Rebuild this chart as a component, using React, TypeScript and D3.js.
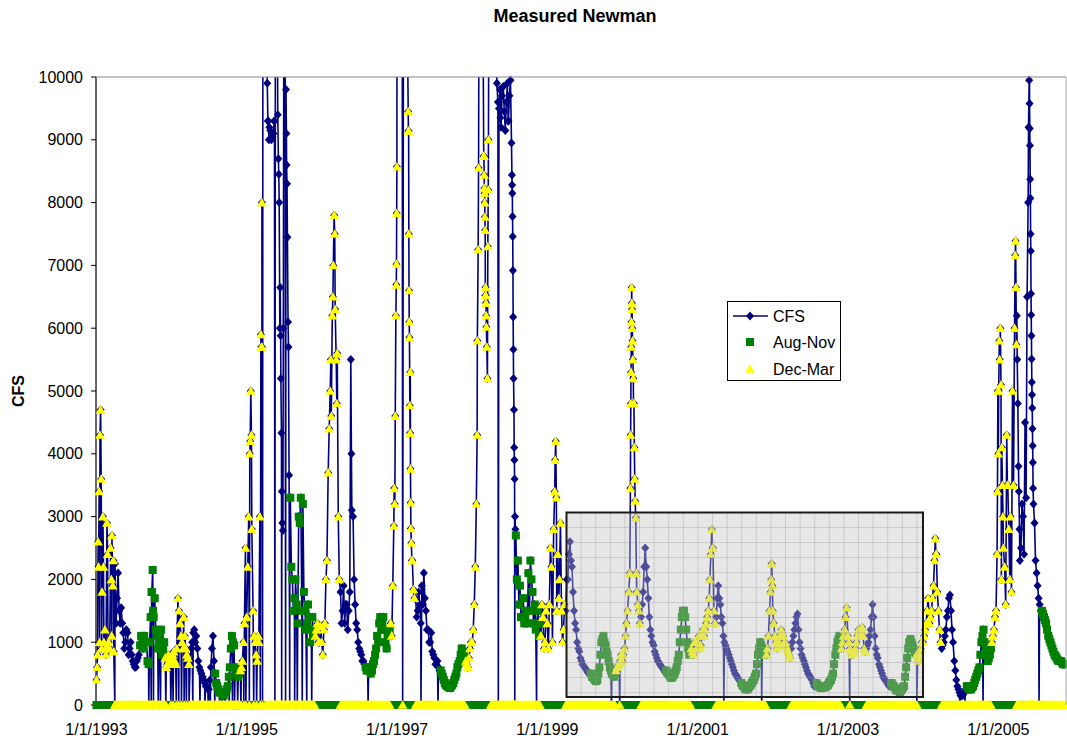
import React from "react";
import * as d3 from "d3";

// ---- data (CFS) ----
// days 1 / 11 / 21 of each month
const flow1993 = [400, 2200, 4700, 3000, 1200, 2900, 1000, 2500, 1900, 2250, 1700, 1500, 1550, 1150, 1000, 1150, 900, 800, 650, 600, 750, 950, 1050, 1100, 1000, 650, 1400, 2150, 1700, 1100, 1000, 1200, 900, 750, 650, 700];
const flow1994 = [700, 850, 650, 1700, 1300, 1000, 1400, 900, 750, 700, 1000, 1200, 1100, 700, 550, 450, 350, 300, 250, 600, 1100, 500, 300, 200, 200, 150, 200, 300, 600, 1100, 950, 500, 450, 550, 700, 1300];
const flow1995 = [1400, 3000, 5000, 1500, 1000, 700, 1000, 5900, 13000, 13000, 9900, 9200, 9000, 9100, 14000, 9400, 6000, 3400, 12000, 9800, 6100, 3300, 2000, 1700, 1600, 3000, 3300, 3200, 1500, 1300, 1400, 1200, 1100, 1100, 1300, 1000];
const flow1996 = [1000, 1200, 2000, 3700, 5000, 6200, 7800, 5500, 3000, 1800, 1500, 1300, 1600, 1500, 5500, 3000, 1600, 1200, 900, 800, 700, 600, 550, 600, 550, 700, 900, 1000, 1400, 1300, 1200, 900, 1100, 1300, 1900, 3200];
const flow1997 = [15000, 12000, 11000, 12000, 11000, 10500, 6100, 2580, 1840, 1700, 1500, 1600, 1900, 2100, 1500, 1200, 1000, 850, 750, 650, 600, 550, 450, 350, 300, 280, 300, 350, 450, 600, 700, 900, 800, 700, 600, 900];
const flow1998 = [1000, 1600, 3200, 8550, 14000, 12000, 8230, 6020, 9000, 14000, 13000, 11000, 9900, 9500, 9200, 9850, 9150, 9900, 9700, 8950, 5200, 2700, 2300, 1900, 1400, 1300, 1500, 2100, 2300, 1800, 1600, 1300, 1100, 1100, 1400, 1000];
const flow1999 = [1300, 1600, 2200, 2800, 4200, 2400, 2000, 1500, 1200, 1500, 2000, 2600, 2200, 1500, 1200, 900, 750, 650, 600, 550, 500, 500, 450, 400, 400, 600, 1000, 1100, 950, 800, 600, 500, 450, 550, 600, 700];
const flow2000 = [700, 900, 1300, 1800, 4800, 5500, 3600, 1800, 1500, 1400, 1800, 2500, 2000, 1400, 1100, 950, 800, 700, 650, 600, 550, 550, 500, 450, 450, 500, 600, 800, 1200, 1500, 1400, 1000, 800, 900, 800, 1000];
const flow2001 = [1000, 900, 1100, 1100, 1300, 1500, 2000, 2800, 1500, 1400, 1900, 1600, 1300, 1000, 900, 800, 700, 600, 500, 450, 400, 350, 300, 250, 250, 300, 350, 400, 500, 800, 1000, 900, 800, 800, 1100, 1800];
const flow2002 = [1500, 1100, 900, 1000, 1200, 1100, 1000, 900, 800, 900, 1100, 1300, 1450, 1000, 800, 700, 600, 500, 450, 400, 300, 350, 300, 280, 300, 280, 300, 350, 400, 500, 800, 1000, 1100, 900, 1100, 1400];
const flow2003 = [1100, 900, 800, 850, 1000, 1200, 1100, 1240, 900, 900, 1000, 1200, 1600, 1100, 800, 650, 550, 450, 400, 350, 300, 350, 300, 250, 250, 200, 250, 300, 600, 900, 1050, 950, 850, 800, 700, 900];
const flow2004 = [1000, 1200, 1500, 1300, 1500, 1900, 2650, 1800, 1200, 900, 1000, 1200, 1500, 1750, 1200, 700, 400, 250, 150, 150, 200, 300, 250, 250, 300, 400, 500, 600, 1000, 1200, 900, 700, 800, 1000, 1200, 1500];
const flow2005 = [4000, 6000, 3500, 2200, 4300, 2800, 3000, 5000, 6000, 6200, 3400, 2500, 3000, 4500, 6500, 11000, 5880, 3200, 2300, 1900, 1600, 1500, 1400, 1300, 1100, 1000, 900, 800, 750, 700, 700, 650, 650];

// days 6 / 16 / 26 of each month (other edge of the daily scatter)
const mid1993 = [800, 1000, 900, 1000, 800, 900, 900, 1100, 850, 1300, 2100, 1300, 1300, 900, 1200, 800, 1000, 700, 600, 700, 800, 1100, 900, 1000, 700, 1000, 1800, 1400, 1200, 900, 1100, 800, 1000, 600, 800, 650];
const mid1994 = [800, 700, 900, 1500, 1100, 900, 1100, 800, 650, 900, 1150, 1000, 900, 600, 500, 400, 300, 250, 400, 900, 700, 350, 250, 200, 180, 200, 250, 450, 900, 1000, 600, 480, 500, 600, 1000, 2500];
const mid1995 = [2200, 4000, 2800, 1100, 800, 1100, 3000, 5700, 14000, 11000, 9300, 9150, 9050, 9300, 14000, 8450, 5200, 2780, 15000, 8300, 3660, 2200, 1500, 2000, 1300, 2900, 1500, 1800, 1200, 1600, 1000, 1400, 1200, 1200, 1000, 1250];
const mid1996 = [800, 1300, 2300, 4400, 4600, 7000, 6300, 5600, 2000, 1300, 1900, 1600, 1200, 1800, 3100, 2000, 1300, 1000, 850, 700, 650, 550, 600, 500, 650, 800, 1100, 1300, 1200, 1400, 1000, 1100, 1200, 1100, 2850, 6200];
const mid1997 = [14000, 11000, 12000, 12000, 11000, 9140, 5300, 2300, 1700, 1400, 1800, 1300, 1600, 1700, 1200, 1000, 1150, 800, 650, 700, 550, 500, 400, 320, 290, 270, 320, 400, 500, 650, 800, 850, 750, 650, 750, 1000];
const mid1998 = [1200, 2200, 5800, 13000, 13000, 8740, 6520, 5200, 15000, 13000, 12000, 10500, 9600, 9800, 9700, 9450, 9600, 9300, 9950, 7780, 3600, 2000, 1600, 1400, 1700, 1400, 1300, 1500, 2000, 1300, 1200, 1500, 1300, 1600, 900, 1500];
const mid1999 = [900, 2500, 1000, 3400, 1500, 1700, 2900, 1000, 1600, 2000, 2400, 2300, 1800, 1300, 1000, 850, 700, 620, 580, 520, 480, 450, 420, 380, 500, 800, 1050, 1000, 850, 700, 550, 480, 500, 600, 650, 800];
const mid2000 = [800, 1100, 1500, 2100, 6400, 4800, 2980, 1600, 1300, 1600, 2200, 2200, 1700, 1200, 1000, 850, 750, 680, 620, 580, 520, 520, 480, 430, 480, 550, 700, 1000, 1400, 1500, 1200, 900, 850, 850, 1000, 900];
const mid2001 = [1100, 950, 1200, 1200, 1400, 1700, 2400, 2500, 1300, 1700, 1700, 1400, 1100, 950, 850, 750, 650, 550, 480, 420, 380, 320, 280, 250, 280, 320, 380, 450, 650, 900, 950, 850, 850, 900, 1500, 2250];
const mid2002 = [1300, 1000, 950, 1100, 1150, 1000, 950, 850, 750, 1000, 1200, 1400, 1200, 900, 750, 650, 550, 480, 420, 350, 320, 320, 290, 270, 290, 300, 320, 380, 450, 650, 900, 1050, 1000, 1000, 1200, 1550];
const mid2003 = [1000, 850, 820, 900, 1100, 1150, 1200, 1100, 850, 950, 1100, 1400, 1400, 900, 750, 600, 500, 420, 380, 320, 320, 320, 280, 230, 220, 230, 280, 450, 750, 1000, 1000, 900, 820, 750, 800, 1000];
const mid2004 = [1100, 1300, 1700, 1400, 1700, 2300, 2400, 1500, 1000, 950, 1100, 1400, 1700, 1500, 1000, 550, 300, 200, 150, 180, 250, 280, 250, 280, 350, 450, 550, 800, 1100, 1000, 800, 750, 900, 1100, 1400, 2400];
const mid2005 = [5800, 2000, 2500, 1600, 3500, 2000, 1800, 3500, 7390, 4800, 2300, 3200, 2400, 3300, 8000, 8070, 4400, 2900, 2100, 1700, 1500, 1450, 1350, 1200, 1050, 950, 850, 780, 720, 700, 680, 650];

const flowYears = [1993, 1994, 1995, 1996, 1997, 1998, 1999, 2000, 2001, 2002, 2003, 2004, 2005];
const flowTable = [flow1993, flow1994, flow1995, flow1996, flow1997, flow1998, flow1999, flow2000, flow2001, flow2002, flow2003, flow2004, flow2005];
const midTable = [mid1993, mid1994, mid1995, mid1996, mid1997, mid1998, mid1999, mid2000, mid2001, mid2002, mid2003, mid2004, mid2005];
const gridDays = [1, 11, 21];
const midDays = [6, 16, 26];

// storm days read separately (rises / recessions)
const stormDays: [string, number][] = [
  ["1993-01-04", 600], ["1993-01-09", 2600], ["1993-01-14", 3400], ["1993-01-18", 4300], ["1993-01-24", 3600], ["1993-01-28", 1800],
  ["1993-02-04", 2200], ["1993-02-14", 900], ["1993-02-24", 2400], ["1993-03-04", 900], ["1993-03-14", 2000], ["1993-03-17", 2700],
  ["1993-03-24", 2300], ["1993-09-27", 1800], ["1993-10-03", 1500],
  ["1995-01-18", 4200], ["1995-01-24", 4300], ["1995-03-13", 5700], ["1995-03-16", 8000], ["1995-04-05", 11000], ["1995-04-14", 9300],
  ["1995-04-19", 9000], ["1995-05-15", 9300], ["1995-06-04", 8700], ["1995-06-08", 8000], ["1995-06-13", 6650], ["1995-06-15", 5880],
  ["1995-06-19", 4330], ["1995-06-23", 2900], ["1995-06-28", 6000], ["1995-07-13", 9100], ["1995-07-14", 8600], ["1995-07-18", 7450],
  ["1995-07-23", 5700], ["1995-07-30", 3300],
  ["1996-02-14", 5500], ["1996-02-24", 6500], ["1996-03-04", 7500], ["1996-03-14", 4800], ["1996-05-24", 4000],
  ["1996-12-18", 3450], ["1996-12-23", 4600], ["1996-12-28", 6690], ["1996-12-29", 7020], ["1996-12-30", 7830], ["1996-12-31", 8570],
  ["1997-02-24", 9450], ["1997-02-25", 9140], ["1997-02-27", 7500], ["1997-02-28", 6600], ["1997-03-02", 5850], ["1997-03-04", 4770],
  ["1997-03-05", 4330], ["1997-03-07", 3760], ["1997-03-08", 3220], ["1997-03-09", 2810], ["1997-03-14", 2300],
  ["1998-01-25", 4300], ["1998-01-30", 7250], ["1998-02-04", 13000], ["1998-02-27", 8740], ["1998-02-28", 8440], ["1998-03-02", 8150],
  ["1998-03-03", 8000], ["1998-03-04", 7770], ["1998-03-05", 7560], ["1998-03-07", 6650], ["1998-03-08", 6520], ["1998-03-09", 6400],
  ["1998-03-10", 6200], ["1998-03-13", 5700], ["1998-03-18", 7300], ["1998-03-20", 8200], ["1998-05-18", 9350], ["1998-06-25", 9300],
  ["1998-07-13", 8440], ["1998-07-14", 8280], ["1998-07-15", 8150], ["1998-07-17", 7460], ["1998-07-18", 6920], ["1998-07-19", 6180],
  ["1998-07-20", 5660], ["1998-07-23", 4700], ["1998-07-24", 4100], ["1998-07-25", 3900], ["1998-07-28", 3000], ["1998-07-30", 2800],
  ["1999-02-08", 3900], ["1999-02-14", 3300],
  ["2000-02-09", 3450], ["2000-02-10", 4300], ["2000-02-12", 5300], ["2000-02-13", 5700], ["2000-02-14", 6100], ["2000-02-15", 6650],
  ["2000-02-17", 6300], ["2000-02-18", 6000], ["2000-02-19", 5800], ["2000-02-23", 5200], ["2000-02-24", 4800], ["2000-02-28", 4100],
  ["2000-03-03", 3250], ["2000-03-09", 2100],
  ["2001-03-14", 2500], ["2001-12-24", 2000], ["2001-12-27", 2250], ["2001-12-30", 1900],
  ["2004-03-04", 2400], ["2004-12-28", 3400], ["2004-12-30", 5000],
  ["2005-01-03", 5000], ["2005-01-08", 5500], ["2005-01-14", 5100], ["2005-01-18", 4100], ["2005-01-24", 3000], ["2005-02-14", 3500],
  ["2005-03-24", 7160], ["2005-03-28", 6650], ["2005-03-30", 5740], ["2005-04-03", 5500], ["2005-04-09", 3800], ["2005-04-14", 2800],
  ["2005-05-28", 9200], ["2005-05-31", 9950], ["2005-06-02", 9580], ["2005-06-03", 9180], ["2005-06-04", 8910], ["2005-06-05", 8370],
  ["2005-06-07", 7500], ["2005-06-08", 7230], ["2005-06-09", 6550], ["2005-06-10", 6210], ["2005-06-12", 5510], ["2005-06-13", 5140],
  ["2005-06-14", 4940], ["2005-06-15", 4730], ["2005-06-17", 4130], ["2005-06-18", 3860], ["2005-06-19", 3450],
];

// missing days recorded as 0
const gapDays = [
  "1993-03-31", "1993-09-12", "1993-09-24", "1993-10-05", "1993-10-28", "1993-11-08", "1993-12-04", "1993-12-28",
  "1994-01-08", "1994-01-24", "1994-02-05", "1994-02-18", "1994-03-03", "1994-03-14", "1994-03-27", "1994-04-14",
  "1994-05-19", "1994-06-11", "1994-06-28", "1994-07-08", "1994-07-30", "1994-08-22", "1994-09-04", "1994-09-18",
  "1994-10-08", "1994-10-24", "1994-11-03", "1994-11-18", "1994-12-04", "1994-12-18", "1994-12-28",
  "1995-01-14", "1995-02-04", "1995-02-18", "1995-03-08", "1995-03-19", "1995-05-18", "1995-06-20", "1995-07-09",
  "1995-07-29", "1995-08-22", "1995-09-04", "1995-09-28", "1995-10-20", "1995-11-13",
  "1996-08-13", "1997-01-28", "1997-04-27", "1997-07-19", "1998-05-08", "1998-07-27", "1998-11-10", "1999-11-09",
  "1999-12-19", "2001-05-08", "2001-11-08", "2003-01-10", "2003-12-02", "2004-06-28", "2004-07-22", "2004-10-19",
  "2005-07-18",
];

const yTickValues = [0, 1000, 2000, 3000, 4000, 5000, 6000, 7000, 8000, 9000, 10000];
const xTickLabels = ["1/1/1993", "1/1/1995", "1/1/1997", "1/1/1999", "1/1/2001", "1/1/2003", "1/1/2005"];

const FONT = "'Liberation Sans', Arial, sans-serif";
const parseDay = d3.timeParse("%Y-%m-%d");
const parseTick = d3.timeParse("%m/%d/%Y");

type Pt = { date: Date; v: number };

const points: Pt[] = [];
flowTable.forEach((arr, k) =>
  arr.forEach((v, i) => points.push({ date: new Date(flowYears[k], Math.floor(i / 3), gridDays[i % 3]), v }))
);
midTable.forEach((arr, k) =>
  arr.forEach((v, i) => points.push({ date: new Date(flowYears[k], Math.floor(i / 3), midDays[i % 3]), v }))
);
stormDays.forEach(([d, v]) => points.push({ date: parseDay(d) as Date, v }));
gapDays.forEach((d) => points.push({ date: parseDay(d) as Date, v: 0 }));
points.sort((a, b) => +a.date - +b.date);

const isAugNov = (d: Date) => d.getMonth() >= 7 && d.getMonth() <= 10;
const isDecMar = (d: Date) => d.getMonth() === 11 || d.getMonth() <= 2;

const L = 96.5, R = 1066, T = 77, B = 705;

export default function App() {
  const x = d3.scaleTime().domain([new Date(1993, 0, 1), new Date(2005, 0, 1)]).range([L, 998.3]);
  const y = d3.scaleLinear().domain([0, 10000]).range([B, T]);

  const line = d3.line<Pt>().x((d) => x(d.date)).y((d) => y(d.v));

  const shown = points.filter((d) => x(d.date) <= R + 2);
  const inRange = (d: Pt) => d.v <= 10000;
  const augNov = shown.map((d) => ({ date: d.date, v: isAugNov(d.date) ? d.v : 0 })).filter(inRange);
  const decMar = shown.map((d) => ({ date: d.date, v: isDecMar(d.date) ? d.v : 0 })).filter(inRange);

  const diamond = "M0,-4.5L4,0L0,4.5L-4,0Z";
  const tri = "M0,-4.8L4.8,3.8L-4.8,3.8Z";

  // annotation box
  const bx = 566.5, by = 512.5, bw = 356.5, bh = 184.5;
  const gridX = d3.range(bx + 14.6, bx + bw, 14.6);
  const gridY = d3.range(by + 15, by + bh, 15);

  return (
    <div style={{ position: "absolute", left: 0, top: 0 }}>
      <svg width={1067} height={740} style={{ display: "block", background: "#fff", fontFamily: FONT }}>
        <defs>
          <clipPath id="plotClip">
            <rect x={L} y={T} width={R - L} height={B - T + 10} />
          </clipPath>
        </defs>

        <text x={575} y={22} textAnchor="middle" fontWeight="bold" fontSize={18}>Measured Newman</text>
        <text transform="translate(24,391) rotate(-90)" textAnchor="middle" fontWeight="bold" fontSize={16}>CFS</text>

        {/* y axis */}
        <line x1={96} x2={96} y1={T} y2={B} stroke="#000" strokeWidth={1.2} />
        {yTickValues.map((t) => (
          <g key={t}>
            <line x1={91} x2={96} y1={y(t)} y2={y(t)} stroke="#000" />
            <text x={83} y={y(t) + 5.5} textAnchor="end" fontSize={16}>{t}</text>
          </g>
        ))}
        {xTickLabels.map((t) => (
          <text key={t} x={x(parseTick(t) as Date)} y={735} textAnchor="middle" fontSize={16}>{t}</text>
        ))}

        {/* CFS */}
        <g clipPath="url(#plotClip)">
          <path d={line(shown) || ""} fill="none" stroke="#000080" strokeWidth={1.6} />
        </g>
        {shown.filter(inRange).map((d, i) => (
          <path key={"c" + i} d={diamond} transform={`translate(${x(d.date)},${y(d.v)})`} fill="#000080" />
        ))}
        {augNov.map((d, i) => (
          <rect key={"g" + i} x={x(d.date) - 4} y={y(d.v) - 4} width={8} height={8} fill="#008000" />
        ))}
        {decMar.map((d, i) => (
          <path key={"y" + i} d={tri} transform={`translate(${x(d.date)},${y(d.v)})`} fill="#ffff00" />
        ))}

        {/* plot frame */}
        <line x1={96} x2={R} y1={T} y2={T} stroke="#888" strokeWidth={1.2} />
        <line x1={R} x2={R} y1={T} y2={B} stroke="#aaa" strokeWidth={1} />

        {/* shaded box */}
        <rect x={bx} y={by} width={bw} height={bh} fill="rgb(195,195,195)" fillOpacity={0.4} />
        {gridX.map((gx) => (
          <line key={"gx" + gx} x1={gx} x2={gx} y1={by} y2={by + bh} stroke="#999" strokeOpacity={0.35} />
        ))}
        {gridY.map((gy) => (
          <line key={"gy" + gy} x1={bx} x2={bx + bw} y1={gy} y2={gy} stroke="#999" strokeOpacity={0.35} />
        ))}
        <rect x={bx} y={by} width={bw} height={bh} fill="none" stroke="#1a1a1a" strokeWidth={2} />

        {/* legend */}
        <rect x={727.5} y={301.5} width={113} height={79} fill="#fff" stroke="#000" />
        <line x1={733} x2={768} y1={316} y2={316} stroke="#000080" strokeWidth={1.6} />
        <path d={diamond} transform="translate(750,316)" fill="#000080" />
        <text x={773} y={322} fontSize={16}>CFS</text>
        <rect x={746} y={338} width={8} height={8} fill="#008000" />
        <text x={773} y={348} fontSize={16}>Aug-Nov</text>
        <path d={tri} transform="translate(750,369)" fill="#ffff00" />
        <text x={773} y={375} fontSize={16}>Dec-Mar</text>
      </svg>
    </div>
  );
}
